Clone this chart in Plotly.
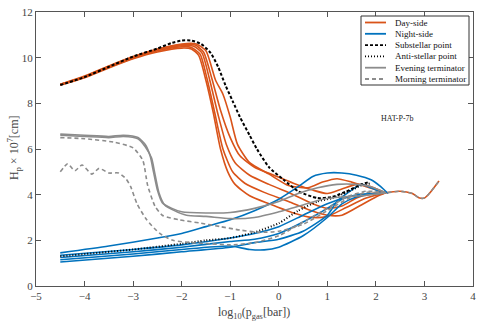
import plotly.graph_objects as go

# day-side (orange) curves
day_x = [
    [-4.5, -4, -3.5, -3, -2.5, -2, -1.8, -1.65, -1.5, -1.35, -1.2, -1.05, -0.9, -0.6, -0.2, 0.3, 0.7, 1.0, 1.4, 1.8, 2.2, 2.5, 2.75, 2.9, 3.0, 3.1, 3.3],
    [-4.5, -4, -3.5, -3, -2.5, -2, -1.8, -1.62, -1.48, -1.32, -1.15, -0.95, -0.7, -0.3, 0.2, 0.6, 1.0, 1.3, 1.7, 2.0, 2.2],
    [-4.5, -4, -3.5, -3, -2.5, -2, -1.75, -1.58, -1.42, -1.25, -1.08, -0.9, -0.6, -0.2, 0.3, 0.7, 1.0, 1.3, 1.6, 1.9, 2.2],
    [-4.5, -4, -3.5, -3, -2.5, -2, -1.72, -1.55, -1.38, -1.2, -1.0, -0.8, -0.5, -0.1, 0.3, 0.7, 1.0, 1.3, 1.6, 1.9, 2.2],
    [-4.5, -4, -3.5, -3, -2.5, -2, -1.7, -1.5, -1.3, -1.15, -1.0, -0.85, -0.6, -0.2, 0.2, 0.6, 0.9, 1.2, 1.5, 1.8, 2.2],
]
day_y = [
    [8.8, 9.12, 9.55, 9.95, 10.25, 10.42, 10.38, 10.1, 9.0, 7.6, 6.0, 5.0, 4.45, 3.95, 3.6, 3.2, 3.0, 3.05, 3.45, 3.85, 4.08, 4.15, 4.05, 3.85, 3.85, 4.05, 4.6],
    [8.8, 9.14, 9.58, 9.98, 10.3, 10.48, 10.45, 10.15, 9.1, 7.6, 6.0, 5.0, 4.5, 4.1, 3.7, 3.35, 3.1, 3.1, 3.55, 3.9, 4.08],
    [8.82, 9.16, 9.6, 10.0, 10.32, 10.52, 10.5, 10.2, 9.0, 7.5, 6.2, 5.4, 4.85, 4.45, 4.0, 3.6, 3.4, 3.5, 3.85, 4.05, 4.08],
    [8.83, 9.18, 9.62, 10.02, 10.35, 10.56, 10.55, 10.25, 9.1, 7.7, 6.5, 5.7, 5.2, 4.85, 4.5, 4.2, 4.05, 4.25, 4.45, 4.35, 4.08],
    [8.84, 9.2, 9.64, 10.05, 10.38, 10.6, 10.6, 10.3, 9.0, 8.4, 7.4, 6.2, 5.4, 4.9, 4.4, 4.3, 4.55, 4.7, 4.55, 4.35, 4.08],
]

# night-side (blue) curves
night_x = [
    [-4.5, -3.5, -2.5, -2, -1.5, -1, -0.5, 0, 0.4, 0.7, 1.0, 1.3, 1.6, 1.9, 2.1, 2.25],
    [-4.5, -3, -2, -1, -0.5, 0, 0.5, 1.0, 1.4, 1.8, 2.1],
    [-4.5, -3, -2, -1, -0.5, 0, 0.5, 1.0, 1.3, 1.6, 2.0],
    [-4.5, -3, -2, -1, -0.6, -0.3, 0, 0.5, 1.0, 1.3, 1.6, 2.0],
    [-4.5, -3, -2, -1, -0.5, 0, 0.5, 1.0, 1.2, 1.5, 1.7, 1.9, 2.1],
]
night_y = [
    [1.45, 1.75, 2.1, 2.3, 2.6, 2.9, 3.3, 3.8, 4.35, 4.8, 4.95, 4.95, 4.85, 4.65, 4.35, 4.05],
    [1.35, 1.6, 1.8, 2.1, 2.3, 2.6, 3.1, 3.6, 3.9, 4.0, 4.05],
    [1.25, 1.5, 1.7, 1.95, 2.05, 2.3, 2.8, 3.4, 3.8, 4.0, 4.05],
    [1.15, 1.4, 1.6, 1.75, 1.6, 1.58, 1.7, 2.2, 3.0, 3.6, 3.9, 4.05],
    [1.05, 1.3, 1.5, 1.7, 1.9, 2.05, 2.4, 3.1, 3.7, 4.2, 4.45, 4.3, 4.1],
]

sub_x = [-4.5, -4, -3.5, -3, -2.5, -2.2, -2, -1.8, -1.6, -1.4, -1.25, -1.1, -0.95, -0.8, -0.6, -0.45, -0.2, 0.1, 0.4, 0.8, 1.1, 1.4, 1.7, 1.85]
sub_y = [8.8, 9.15, 9.6, 10.05, 10.4, 10.65, 10.75, 10.75, 10.6, 10.2, 9.6, 8.8, 8.1, 7.4, 6.6, 6.0, 5.2, 4.65, 4.15, 3.85, 3.9, 4.15, 4.45, 4.55]

anti_x = [-4.5, -3, -2, -1.5, -1.0, -0.5, 0, 0.4, 0.8, 1.1, 1.4, 1.7, 1.9]
anti_y = [1.3, 1.6, 1.85, 2.0, 2.1, 2.35, 2.75, 3.3, 3.7, 3.85, 4.1, 4.4, 4.5]

eve_x = [
    [-4.5, -4, -3.5, -3.2, -2.9, -2.75, -2.65, -2.58, -2.5, -2.4, -2.2, -2, -1.5, -1, -0.5, 0, 0.4, 0.8, 1.2, 1.6, 1.9, 2.2],
    [-4.5, -4, -3.5, -3.2, -2.9, -2.75, -2.62, -2.55, -2.47, -2.35, -2.15, -1.9, -1.5, -1, -0.5, 0, 0.5, 0.9, 1.3, 1.7, 2.2],
]
eve_y = [
    [6.65, 6.6, 6.55, 6.6, 6.5, 6.2, 5.7, 5.0, 4.2, 3.65, 3.4, 3.25, 3.2, 3.22, 3.4, 3.7, 4.05, 4.3, 4.45, 4.45, 4.35, 4.08],
    [6.6, 6.55, 6.5, 6.55, 6.45, 6.1, 5.6, 4.9, 4.1, 3.55, 3.3, 3.1, 3.05, 2.95, 3.0, 3.25, 3.55, 3.8, 3.9, 3.95, 4.08],
]

morn_x = [
    [-4.5, -4, -3.4, -3.0, -2.8, -2.7, -2.55, -2.4, -2.05, -1.6, -1.2, -0.8, -0.4, 0, 0.5, 1.0, 1.4, 1.8, 2.2, 2.5, 2.75, 2.9, 3.0, 3.1, 3.3],
    [-4.5, -4.35, -4.2, -4.05, -3.85, -3.7, -3.5, -3.3, -3.15, -3.05, -2.92, -2.72, -2.45, -2.18, -1.8, -1.4, -1.0, -0.5, 0, 0.5, 1.0, 1.4, 1.8, 2.2],
]
morn_y = [
    [6.5, 6.45, 6.3, 6.05, 5.5, 4.4, 3.5, 3.1, 2.9, 2.75, 2.6, 2.45, 2.35, 2.4, 2.7, 3.3, 3.8, 4.1, 4.08, 4.15, 4.05, 3.85, 3.85, 4.05, 4.6],
    [5.0, 5.35, 5.05, 5.3, 4.9, 5.15, 4.95, 4.95, 4.7, 4.35, 3.6, 2.9, 2.3, 2.0, 1.9, 1.85, 1.8, 1.9, 2.2, 2.8, 3.4, 3.9, 4.15, 4.08],
]

legend_names = ['Day-side', 'Night-side', 'Substellar point', 'Anti-stellar point',
                'Evening terminator', 'Morning terminator']

ORANGE = '#D95319'
BLUE = '#0072BD'
GRAY = '#8c8c8c'
SERIF = 'Liberation Serif'

styles = [(ORANGE, 'solid'), (BLUE, 'solid'), ('black', '3px,2px'), ('black', '1px,2px'),
          (GRAY, 'solid'), (GRAY, '4px,3px')]

fig = go.Figure()

def add_group(xs, ys, name, color, dash, width=1.6):
    for x, y in zip(xs, ys):
        fig.add_trace(go.Scatter(x=x, y=y, mode='lines', name=name, showlegend=False,
                                 line=dict(color=color, width=width, dash=dash,
                                           shape='spline', smoothing=0.6)))

add_group(day_x, day_y, legend_names[0], *styles[0])
add_group(night_x, night_y, legend_names[1], *styles[1])
add_group([sub_x], [sub_y], legend_names[2], *styles[2], width=2)
add_group([anti_x], [anti_y], legend_names[3], *styles[3], width=2)
add_group(eve_x, eve_y, legend_names[4], *styles[4])
add_group(morn_x, morn_y, legend_names[5], *styles[5])

# compact legend drawn by hand (plotly's own legend rows are too tall)
# helpers: screen pixel -> paper fraction of the plot area (36..473, 12..286)
def px(x):
    return (x - 36) / 437

def py(y):
    return (286 - y) / 274

fig.add_shape(type='rect', xref='paper', yref='paper', x0=px(361), x1=px(469),
              y0=py(85), y1=py(16), line=dict(color='#333', width=1), fillcolor='white', layer='above')
for i, (name, (color, dash)) in enumerate(zip(legend_names, styles)):
    yy = py(22.5 + i * 11.3)
    fig.add_shape(type='line', xref='paper', yref='paper', x0=px(365), x1=px(386), y0=yy, y1=yy,
                  line=dict(color=color, dash=dash, width=1.8), layer='above')
    fig.add_annotation(xref='paper', yref='paper', x=px(393), y=yy, text=name, showarrow=False,
                       xanchor='left', yanchor='middle',
                       font=dict(family=SERIF, size=9, color='#111'))

fig.add_annotation(x=2.45, y=7.35, text='HAT-P-7b', showarrow=False,
                   font=dict(family=SERIF, size=8, color='#222'))

# axis titles
fig.add_annotation(xref='paper', yref='paper', x=px(254), y=py(303), text='log<sub>10</sub>(p<sub>gas</sub>[bar])',
                   showarrow=False, xanchor='center', yanchor='top',
                   font=dict(family=SERIF, size=12, color='#444'))
fig.add_annotation(xref='paper', yref='paper', x=px(14), y=py(148), text='H<sub>p</sub> × 10<sup>7</sup>[cm]',
                   showarrow=False, textangle=-90, xanchor='center', yanchor='middle',
                   font=dict(family=SERIF, size=12, color='#444'))

axis_common = dict(showline=True, linecolor='#555', linewidth=1, mirror='ticks',
                   ticks='inside', ticklen=5, tickcolor='#555', showgrid=False,
                   zeroline=False, automargin=False,
                   tickfont=dict(family=SERIF, size=11, color='#444'))

fig.update_xaxes(range=[-5, 4], dtick=1, **axis_common)
fig.update_yaxes(range=[0, 12], dtick=2, **axis_common)

fig.update_layout(width=483, height=322, margin=dict(l=36, r=10, t=12, b=36),
                  plot_bgcolor='white', paper_bgcolor='white', showlegend=False)

# drop the browser's default body margin so the figure sits at the page corner
fig.write_html("out.html", config={'displayModeBar': False},
               post_script="document.body.style.margin='0';")
